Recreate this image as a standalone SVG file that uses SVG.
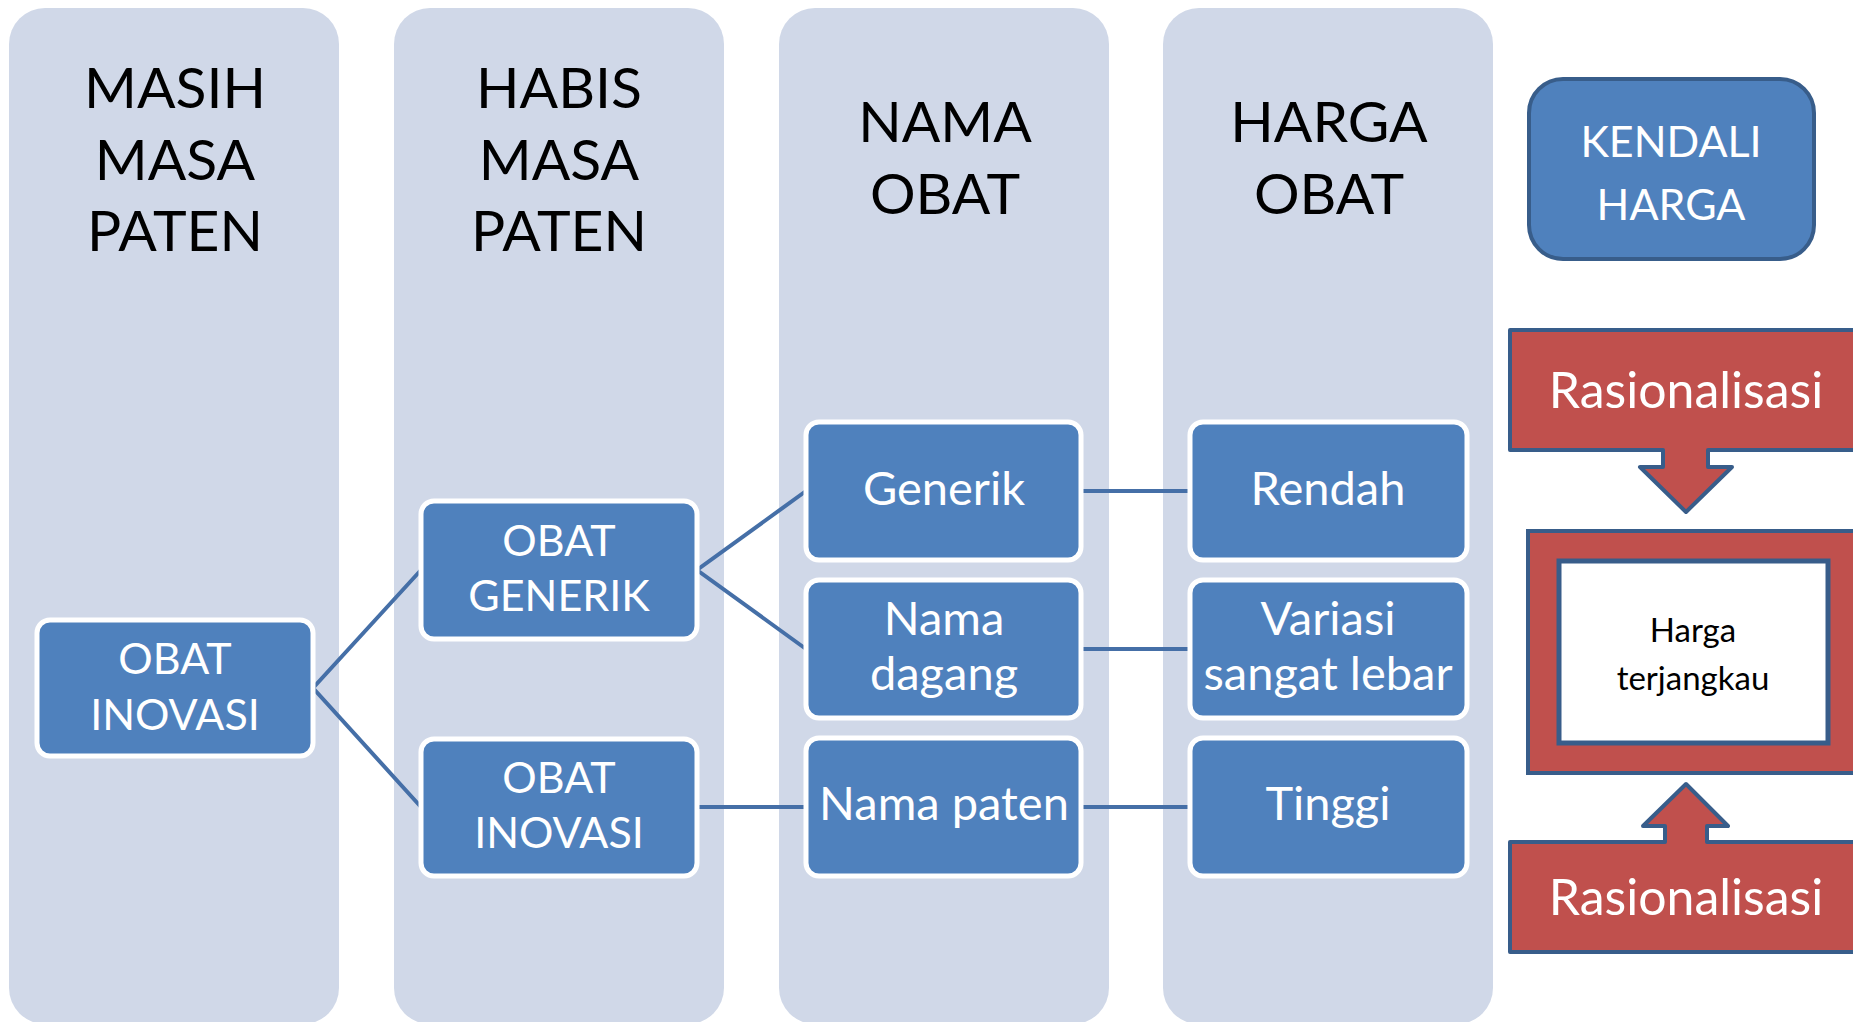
<svg xmlns="http://www.w3.org/2000/svg" width="1853" height="1022" viewBox="0 0 1853 1022">
<style>
.col{fill:#D0D8E8}
.hdr{font-family:Lato,"Open Sans",sans-serif;font-size:57px;fill:#000;text-anchor:middle}
.node{fill:#4F81BD;stroke:#FFFFFF;stroke-width:5}
.nt{font-family:Lato,"Open Sans",sans-serif;font-size:47px;fill:#FFFFFF;text-anchor:middle}
.up{font-size:43px}
.conn{stroke:#456FA7;stroke-width:4;fill:none}
.red{fill:#C0504D;stroke:#385D8A;stroke-width:4;stroke-linejoin:round}
.blk{font-family:Lato,"Open Sans",sans-serif;font-size:33px;fill:#000;text-anchor:middle}
</style>
<rect width="1853" height="1022" fill="#FFFFFF"/>
<g id="columns">
<rect class="col" x="9" y="8" width="330" height="1016" rx="36"/>
<rect class="col" x="394" y="8" width="330" height="1016" rx="36"/>
<rect class="col" x="779" y="8" width="330" height="1016" rx="36"/>
<rect class="col" x="1163" y="8" width="330" height="1016" rx="36"/>
</g>
<g id="headers">
<text class="hdr" x="175" y="108">MASIH</text>
<text class="hdr" x="175" y="180">MASA</text>
<text class="hdr" x="175" y="251">PATEN</text>
<text class="hdr" x="559" y="108">HABIS</text>
<text class="hdr" x="559" y="180">MASA</text>
<text class="hdr" x="559" y="251">PATEN</text>
<text class="hdr" x="945" y="142">NAMA</text>
<text class="hdr" x="945" y="214">OBAT</text>
<text class="hdr" x="1329" y="142">HARGA</text>
<text class="hdr" x="1329" y="214">OBAT</text>
</g>
<g id="connectors">
<polyline class="conn" points="421,570 313,688 421,807"/>
<polyline class="conn" points="806,491 697,570 806,649"/>
<line class="conn" x1="697" y1="807" x2="806" y2="807"/>
<line class="conn" x1="1081" y1="491" x2="1190" y2="491"/>
<line class="conn" x1="1081" y1="649" x2="1190" y2="649"/>
<line class="conn" x1="1081" y1="807" x2="1190" y2="807"/>
</g>
<g id="node-obat-inovasi-1">
<rect class="node" x="37" y="620" width="276" height="136" rx="13"/>
<text class="nt up" x="175" y="674">OBAT</text>
<text class="nt up" x="175" y="730">INOVASI</text>
</g>
<g id="node-obat-generik">
<rect class="node" x="421" y="501" width="276" height="138" rx="13"/>
<text class="nt up" x="559" y="556">OBAT</text>
<text class="nt up" x="559" y="611">GENERIK</text>
</g>
<g id="node-obat-inovasi-2">
<rect class="node" x="421" y="739" width="276" height="137" rx="13"/>
<text class="nt up" x="559" y="793">OBAT</text>
<text class="nt up" x="559" y="848">INOVASI</text>
</g>
<g id="node-generik">
<rect class="node" x="806" y="422" width="275" height="138" rx="13"/>
<text class="nt" x="944" y="505">Generik</text>
</g>
<g id="node-nama-dagang">
<rect class="node" x="806" y="580" width="275" height="138" rx="13"/>
<text class="nt" x="944" y="635">Nama</text>
<text class="nt" x="944" y="690">dagang</text>
</g>
<g id="node-nama-paten">
<rect class="node" x="806" y="738" width="275" height="138" rx="13"/>
<text class="nt" x="944" y="820">Nama paten</text>
</g>
<g id="node-rendah">
<rect class="node" x="1190" y="422" width="277" height="138" rx="13"/>
<text class="nt" x="1328" y="505">Rendah</text>
</g>
<g id="node-variasi">
<rect class="node" x="1190" y="580" width="277" height="138" rx="13"/>
<text class="nt" x="1328" y="635">Variasi</text>
<text class="nt" x="1328" y="690">sangat lebar</text>
</g>
<g id="node-tinggi">
<rect class="node" x="1190" y="738" width="277" height="138" rx="13"/>
<text class="nt" x="1328" y="820">Tinggi</text>
</g>
<g id="node-kendali-harga">
<rect x="1529" y="79" width="285" height="180" rx="34" fill="#4F81BD" stroke="#385D8A" stroke-width="4"/>
<text class="nt up" x="1671" y="157">KENDALI</text>
<text class="nt up" x="1671" y="220">HARGA</text>
</g>
<g id="node-rasionalisasi-top">
<path class="red" d="M1510,330 L1860,330 L1860,450 L1708,450 L1708,467 L1732,467 L1686,512 L1640,467 L1663,467 L1663,450 L1510,450 Z"/>
<text class="nt" x="1686" y="408" style="font-size:50px">Rasionalisasi</text>
</g>
<g id="node-harga-terjangkau">
<rect x="1528" y="531" width="340" height="242" fill="#C0504D" stroke="#385D8A" stroke-width="4"/>
<rect x="1559" y="561" width="269" height="182" fill="#FFFFFF" stroke="#385D8A" stroke-width="5"/>
<text class="blk" x="1693" y="642">Harga</text>
<text class="blk" x="1693" y="690">terjangkau</text>
</g>
<g id="node-rasionalisasi-bottom">
<path class="red" d="M1510,842 L1665,842 L1665,826 L1643,826 L1686,784 L1728,826 L1707,826 L1707,842 L1860,842 L1860,952 L1510,952 Z"/>
<text class="nt" x="1686" y="915" style="font-size:50px">Rasionalisasi</text>
</g>
</svg>
